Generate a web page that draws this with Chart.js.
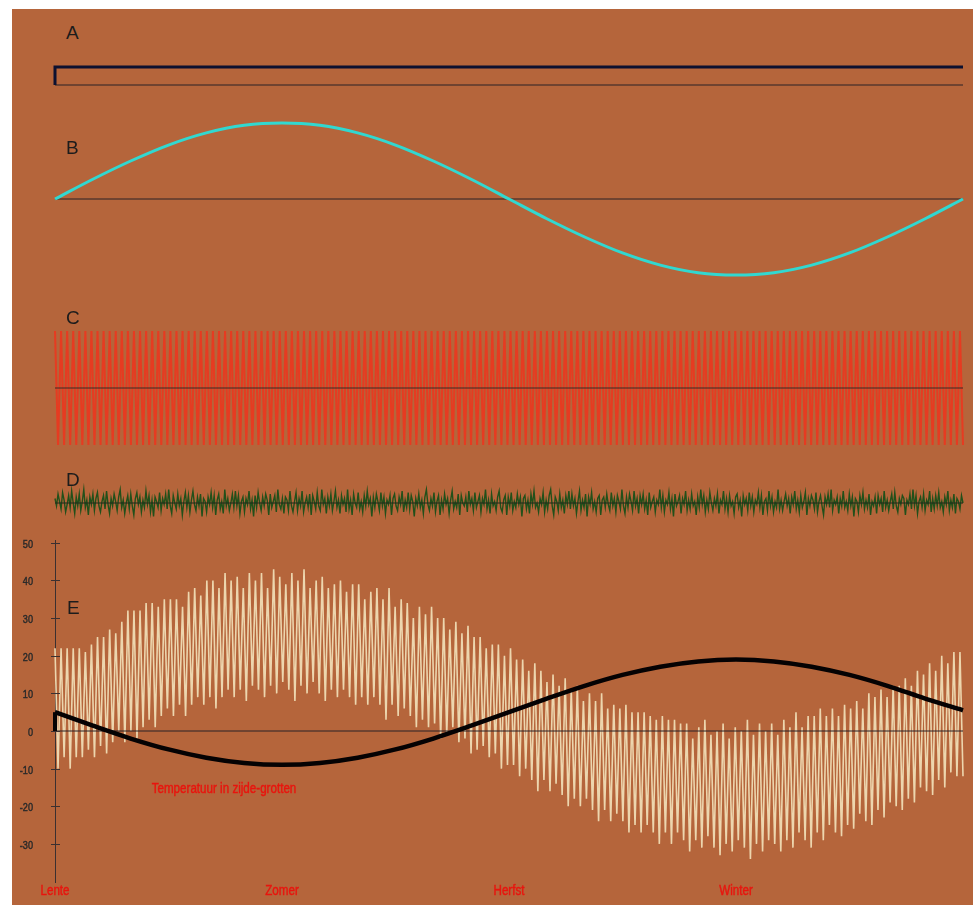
<!DOCTYPE html>
<html>
<head>
<meta charset="utf-8">
<script src="https://cdn.jsdelivr.net/npm/chart.js@4.4.1/dist/chart.umd.min.js"></script>
<style>
  html, body { margin: 0; padding: 0; background: #ffffff; }
  body { width: 973px; height: 907px; position: relative; overflow: hidden; }
  #bg { position: absolute; left: 12px; top: 9px; width: 961px; height: 896px; background: #B5653B; }
  canvas { position: absolute; }
  .tag { position: absolute; font: 19px "Liberation Sans", Arial, sans-serif; color: #1c1c1c; line-height: 1; }
</style>
</head>
<body>
<div id="bg"></div>
<canvas id="cA"></canvas>
<canvas id="cB"></canvas>
<canvas id="cC"></canvas>
<canvas id="cD"></canvas>
<canvas id="cE"></canvas>
<div class="tag" style="left:66px;top:23px">A</div>
<div class="tag" style="left:66px;top:138px">B</div>
<div class="tag" style="left:66px;top:308px">C</div>
<div class="tag" style="left:66px;top:470px">D</div>
<div class="tag" style="left:67px;top:598px">E</div>
<script>
// ---- data ----
const yearDays = 360;
const seasonLabels = ['Lente', 'Zomer', 'Herfst', 'Winter'];
const seasonStartDays = [0, 90, 180, 270];
const tempTicks = [-30, -20, -10, 0, 10, 20, 30, 40, 50];

// A: switched on at the start of the year
const aDays = [0, 0, 360];
const aValues = [0, 1, 1];

// B: yearly swing, sampled every 15 days
const bValues = [0, 0.26, 0.5, 0.71, 0.87, 0.97, 1, 0.97, 0.87, 0.71, 0.5, 0.26, 0,
  -0.26, -0.5, -0.71, -0.87, -0.97, -1, -0.97, -0.87, -0.71, -0.5, -0.26, 0];

// C: daily swing
const cValues = [
  1,-1,1,-1,1,-1,1,-1,1,-1,1,-1,1,-1,1,-1,1,-1,1,-1,
  1,-1,1,-1,1,-1,1,-1,1,-1,1,-1,1,-1,1,-1,1,-1,1,-1,
  1,-1,1,-1,1,-1,1,-1,1,-1,1,-1,1,-1,1,-1,1,-1,1,-1,
  1,-1,1,-1,1,-1,1,-1,1,-1,1,-1,1,-1,1,-1,1,-1,1,-1,
  1,-1,1,-1,1,-1,1,-1,1,-1,1,-1,1,-1,1,-1,1,-1,1,-1,
  1,-1,1,-1,1,-1,1,-1,1,-1,1,-1,1,-1,1,-1,1,-1,1,-1,
  1,-1,1,-1,1,-1,1,-1,1,-1,1,-1,1,-1,1,-1,1,-1,1,-1,
  1,-1,1,-1,1,-1,1,-1,1,-1,1,-1,1,-1,1,-1,1,-1,1,-1,
  1,-1,1,-1,1,-1,1,-1,1,-1,1,-1,1,-1,1,-1,1,-1,1,-1,
  1,-1,1,-1,1,-1,1,-1,1,-1,1,-1,1,-1,1,-1,1,-1,1,-1,
  1,-1,1,-1,1,-1,1,-1,1,-1,1,-1,1,-1,1,-1,1,-1,1,-1,
  1,-1,1,-1,1,-1,1,-1,1,-1,1,-1,1,-1,1,-1,1,-1,1,-1,
  1,-1,1,-1,1,-1,1,-1,1,-1,1,-1,1,-1,1,-1,1,-1,1,-1,
  1,-1,1,-1,1,-1,1,-1,1,-1,1,-1,1,-1,1,-1,1,-1,1,-1,
  1,-1,1,-1,1,-1,1,-1,1,-1,1,-1,1,-1,1,-1,1,-1,1,-1
];

// D: weather noise
const dValues = [
  3,-2,6,1,-4,7,2,-6,-1,5,-3,8,0,-7,4,-2,6,-5,1,9,
  -3,2,-8,4,-1,6,-5,3,7,-2,-6,1,5,-4,8,-1,-7,3,-2,6,
  1,-5,4,9,-3,2,-7,0,5,-4,6,-2,-8,3,7,-1,4,-6,2,-3,
  8,-1,5,-6,2,-9,4,1,-3,7,-5,3,-1,6,-4,9,-2,-7,5,0,
  -4,6,-2,3,-8,1,7,-3,5,-6,2,8,-1,-5,4,-2,6,-9,3,1,
  -6,4,-1,7,-3,5,-8,2,6,-4,1,-7,9,-2,3,-5,0,6,-3,8,
  -2,5,-7,1,4,-6,3,-1,8,-4,2,-9,5,-3,7,0,-5,4,-2,6,
  2,-8,6,-3,1,5,-6,9,-1,-4,3,-7,4,2,-5,8,-2,-6,1,7,
  -5,3,-2,8,-6,0,4,-3,6,-8,5,1,-4,7,-2,-5,9,-1,3,-7,
  4,-2,6,-5,1,8,-3,2,-7,5,-1,3,-6,9,-4,2,-8,6,0,-3,
  7,-4,1,-6,5,-2,8,-1,3,-9,4,-3,6,1,-5,7,-2,4,-7,2,
  -1,5,-8,3,6,-2,-5,4,-1,8,-6,2,-3,7,-4,5,1,-9,3,-2,
  6,-3,2,-7,4,9,-1,-5,3,-2,7,-6,1,5,-8,2,-4,6,-1,3,
  -7,2,8,-4,1,-3,6,-8,5,0,-2,4,-6,8,-1,3,-5,7,-3,1,
  5,-6,3,-1,9,-4,2,-7,6,-2,1,-5,4,8,-3,-6,2,5,-8,4,
  -2,7,-5,1,-3,6,-1,4,-9,3,5,-4,2,-7,6,-1,8,-3,0,-6,
  3,-1,7,-6,2,-4,5,9,-2,-8,4,1,-5,6,-3,2,-7,5,-1,8,
  -4,6,-2,3,-7,1,8,-5,2,-3,6,-9,4,-1,7,-4,1,-6,3,5,
  -8,2,4,-3,6,-1,-5,7,-2,3,-6,5,1,-4,9,-2,-7,4,-3,6,
  1,-5,8,-2,3,-7,5,-1,6,-4,2,-8,7,-3,1,4,-6,2,-1,9,
  -3,5,-6,2,-1,7,-4,3,-9,6,-2,1,5,-7,3,-1,8,-5,2,-4,
  6,-2,1,-8,4,-3,9,-1,5,-6,2,-4,7,0,-5,3,-2,6,-7,2,
  -1,8,-4,3,-6,5,-2,1,-7,4,6,-3,2,-9,5,-1,3,-5,7,-2,
  4,-6,2,-1,7,-3,5,-8,1,3,-5,8,-2,4,-6,1,-3,9,-4,2,
  -5,1,6,-2,3,-7,4,-1,8,-4,2,-6,5,-3,1,7,-8,3,-2,5,
  2,-4,7,-6,1,5,-2,-8,4,-1,6,-3,9,-5,2,-1,4,-7,3,-2,
  8,-3,1,-5,6,-2,4,-9,3,1,-6,5,-1,7,-4,2,-3,6,-8,1,
  -2,4,-7,5,-1,3,-6,8,-3,2,-5,1,6,-4,7,-2,-6,3,-1,5,
  3,-8,2,-1,6,-4,9,-2,5,-7,1,4,-3,6,-5,2,-1,8,-6,3,
  -4,5,-2,7,-3,1,-6,4,-1,8,-5,2,-3,6,-7,3,1,-4,5,0
];

// E: outside temperature, daily maxima and minima (°C)
const eHigh = [
  22,22,22,22,22,21,23,25,25,27, 26,29,32,32,32,34,34,33,35,35,
  35,33,37,38,36,40,40,38,42,40, 41,38,42,40,42,38,43,41,39,42,
  40,43,38,40,41,38,39,40,37,39, 39,35,37,38,35,38,33,35,34,30,
  33,31,33,30,30,27,29,26,28,25, 25,22,23,23,20,22,19,19,16,18,
  16,13,15,12,14,11,12,8,10,8,   10,6,7,6,7,5,5,5,4,3,
  4,3,3,2,2,-2,1,3,-1,0,         2,-2,1,0,3,-1,2,0,2,-1,
  3,1,5,1,4,4,6,4,6,4,           7,6,8,6,10,9,11,9,12,12,
  14,12,16,15,18,16,20,18,21,21
];
const eLow = [
  -10,-7,-10,-7,-7,-5,-7,-4,-6,-3, 0,-3,0,-2,1,3,1,4,6,4,
  7,4,7,9,7,9,6,9,11,9,           11,8,12,11,9,12,10,13,11,8,
  12,10,13,10,8,11,9,11,9,7,      9,7,9,7,3,7,4,6,4,1,
  3,1,2,-2,-1,1,-3,-2,-6,-5,      -4,-7,-6,-10,-9,-9,-12,-10,-13,-16,
  -13,-16,-14,-17,-20,-18,-20,-18,-21,-24, -21,-24,-22,-24,-27,-25,-27,-25,-27,-30,
  -27,-30,-27,-29,-32,-29,-31,-28,-31,-33, -30,-32,-29,-31,-34,-30,-32,-29,-30,-32,
  -29,-31,-27,-29,-31,-27,-29,-25,-27,-28, -25,-26,-22,-24,-25,-21,-23,-19,-20,-21,
  -18,-19,-15,-16,-17,-13,-15,-11,-12,-12
];

// E: temperature in the side caves, every 15 days (°C)
const caveValues = [5, 1.4, -2, -4.9, -7.1, -8.5, -9, -8.5, -7.1, -4.9, -2, 1.4, 5,
  8.6, 12, 14.9, 17.1, 18.5, 19, 18.5, 17.1, 14.9, 12, 8.6, 5.5];
const caveLabel = 'Temperatuur in zijde-grotten';
const caveLabelAt = { day: 67, value: -15.4 };

// ---- helpers ----
const FONT = "'Liberation Sans', Arial, sans-serif";
const RED = '#E8150E';

// spread a list of values evenly over the year
function spread(values) {
  const n = values.length;
  return values.map((v, k) => ({ x: k * yearDays / (n - 1), y: v }));
}
function pairs(xs, ys) { return xs.map((x, k) => ({ x: x, y: ys[k] })); }
const zeroLine = [{ x: 0, y: 0 }, { x: yearDays, y: 0 }];

function line(data, color, width, order, extra) {
  return Object.assign({
    data: data, borderColor: color, borderWidth: width, order: order,
    pointRadius: 0, fill: false, clip: false, tension: 0
  }, extra || {});
}

// narrow-looking label: the font squeezed horizontally, lightly stroked
function narrowText(ctx, text, x, y, align, size, color) {
  ctx.save();
  ctx.font = size + 'px ' + FONT;
  ctx.fillStyle = color;
  ctx.strokeStyle = color;
  ctx.lineWidth = 0.45;
  ctx.textAlign = align;
  ctx.textBaseline = 'middle';
  ctx.translate(x, y);
  ctx.scale(0.83, 1);
  ctx.fillText(text, 0, 0);
  ctx.strokeText(text, 0, 0);
  ctx.restore();
}

Chart.defaults.font.family = FONT;

// a strip without visible axes; area = [top, bottom] of the plot in page pixels
function strip(id, area, zeroY, pxPerUnit, datasets) {
  const pad = 6;
  const cv = document.getElementById(id);
  cv.width = 920;
  cv.height = area[1] - area[0] + 2 * pad;
  cv.style.left = '49px';
  cv.style.top = (area[0] - pad) + 'px';
  return new Chart(cv, {
    type: 'line',
    data: { datasets: datasets },
    options: {
      responsive: false, maintainAspectRatio: false, animation: false, devicePixelRatio: 1, events: [],
      layout: { padding: pad },
      plugins: { legend: { display: false }, tooltip: { enabled: false } },
      scales: {
        x: { type: 'linear', min: 0, max: yearDays, display: false },
        y: { type: 'linear', min: (zeroY - area[1]) / pxPerUnit, max: (zeroY - area[0]) / pxPerUnit, display: false }
      }
    }
  });
}

const axisColor = '#2a2226';

strip('cA', [58, 94], 85, 18, [
  line(pairs(aDays, aValues), '#0c1030', 3, 1),
  line(zeroLine, axisColor, 1, 2)
]);

strip('cB', [113, 285], 199, 76, [
  line(spread(bValues), '#31D8D0', 3, 1, { cubicInterpolationMode: 'monotone' }),
  line(zeroLine, axisColor, 1, 2)
]);

strip('cC', [326, 450], 388, 57, [
  line(zeroLine, '#3a2a26', 1, 1),
  line(spread(cValues), '#E63B21', 2, 2)
]);

strip('cD', [484, 522], 503, 1.5, [
  line(zeroLine, '#1e2a1a', 1, 1),
  line(spread(dValues), '#22501a', 1.4, 2)
]);

// ---- E: temperature panel with axes ----
const eDecor = {
  id: 'eDecor',
  afterDraw(chart) {
    const ctx = chart.ctx;
    const y = chart.scales.y, x = chart.scales.x;
    const left = chart.chartArea.left, bottom = chart.chartArea.bottom;
    ctx.save();
    ctx.strokeStyle = '#3b3030';
    ctx.lineWidth = 1;
    y.ticks.forEach(t => {
      const py = Math.round(y.getPixelForValue(t.value)) + 0.5;
      ctx.beginPath();
      ctx.moveTo(left - 4, py);
      ctx.lineTo(left + 5, py);
      ctx.stroke();
      narrowText(ctx, String(t.value), left - 22, py + 1.5, 'right', 11, '#2a2a2a');
    });
    x.ticks.forEach((t, i) => {
      narrowText(ctx, seasonLabels[i], x.getPixelForValue(t.value), bottom + 9, 'center', 14, RED);
    });
    narrowText(ctx, caveLabel, x.getPixelForValue(caveLabelAt.day), y.getPixelForValue(caveLabelAt.value), 'center', 14, RED);
    ctx.restore();
  }
};

const cvE = document.getElementById('cE');
cvE.width = 969;
cvE.height = 370;
cvE.style.left = '0px';
cvE.style.top = '534px';
const eZero = 731, ePx = 3.7625;
new Chart(cvE, {
  type: 'line',
  data: {
    datasets: [
      line(spread(eHigh.flatMap((h, k) => [h, eLow[k]])), '#EDD6AE', 1.6, 4),
      line(zeroLine, axisColor, 1, 3),
      line([{ x: 0, y: 0 }, { x: 0, y: caveValues[0] }], '#050203', 4, 2),
      line(spread(caveValues), '#050203', 4.5, 1, { cubicInterpolationMode: 'monotone' })
    ]
  },
  options: {
    responsive: false, maintainAspectRatio: false, animation: false, devicePixelRatio: 1, events: [],
    layout: { padding: { top: 6, right: 6, left: 0, bottom: 0 } },
    plugins: { legend: { display: false }, tooltip: { enabled: false } },
    scales: {
      x: {
        type: 'linear', min: 0, max: yearDays,
        afterBuildTicks: s => { s.ticks = seasonStartDays.map(v => ({ value: v })); },
        afterFit: s => { s.height = 22; },
        grid: { display: false, drawTicks: false },
        border: { display: false },
        ticks: { display: false }
      },
      y: {
        type: 'linear', min: (eZero - 882) / ePx, max: (eZero - 540) / ePx,
        afterBuildTicks: s => { s.ticks = tempTicks.map(v => ({ value: v })); },
        afterFit: s => { s.width = 55; },
        grid: { display: false, drawTicks: false },
        border: { display: true, color: '#3b3030', width: 1 },
        ticks: { display: false }
      }
    }
  },
  plugins: [eDecor]
});
</script>
</body>
</html>
